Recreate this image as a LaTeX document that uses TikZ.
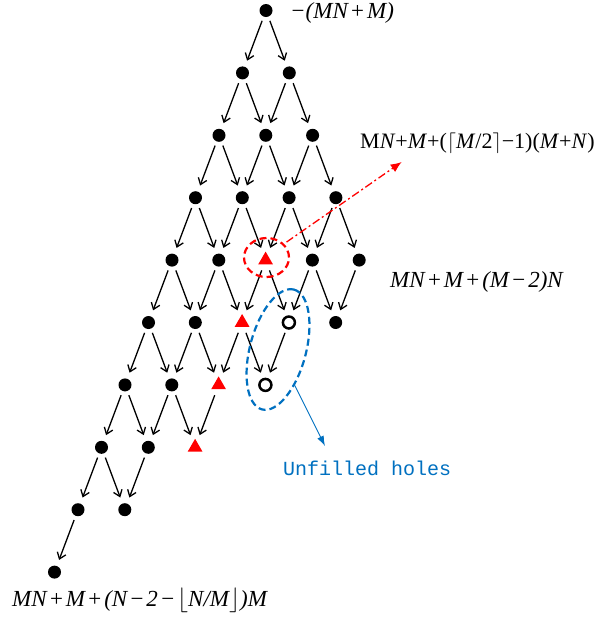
\documentclass[tikz,border=0pt]{standalone}
\usepackage{fontspec}
\setmainfont{Liberation Serif}
\setmonofont{Liberation Mono}
\usetikzlibrary{shapes.geometric,arrows.meta}
\definecolor{myblue}{RGB}{0,112,192}
\newcommand\opsp[1]{\hspace{0.08em}#1\hspace{0.08em}}
\begin{document}
\begin{tikzpicture}[x=1pt,y=-1pt,
  dotnode/.style={circle,fill=black,minimum size=13pt,inner sep=0pt},
  trinode/.style={regular polygon,regular polygon sides=3,fill=red,minimum size=17pt,inner sep=0pt},
  holenode/.style={circle,draw=black,line width=2.5pt,fill=white,minimum size=12pt,inner sep=0pt},
  edge/.style={line width=1.3pt,-{Straight Barb[length=6pt,width=9pt]},shorten <=11pt,shorten >=13pt},
  lbl/.style={font=\fontsize{23}{27}\selectfont,inner sep=0pt,anchor=west}]
\useasboundingbox (0,0) rectangle (602,619);
% nodes
\foreach \r/\n in {0/0,1/1,2/2,3/3,4/4,5/4,6/3,7/2,8/1,9/0}{
  \foreach \i in {0,...,\n}{
    \def\sty{dotnode}
    \ifnum\i=2 \ifnum\r>3 \def\sty{trinode}\fi\fi
    \ifnum\i=3 \ifnum\r>4 \def\sty{holenode}\fi\fi
    \node[\sty] (n-\r-\i) at ({266-23.5*\r+46.8*\i},{10.5+62.4*\r}) {};
  }
}
% edges
\foreach \r/\n/\m in {0/0/1,1/1/2,2/2/3,3/3/4,4/4/4,5/4/3,6/3/2,7/2/1,8/1/0}{
  \pgfmathtruncatemacro\rr{\r+1}
  \foreach \i in {0,...,\n}{
    \pgfmathtruncatemacro\ii{\i+1}
    \ifnum\i>\m\else \draw[edge] (n-\r-\i.center) -- (n-\rr-\i.center);\fi
    \ifnum\ii>\m\else \draw[edge] (n-\r-\i.center) -- (n-\rr-\ii.center);\fi
  }
}
% red ring and arrow
\node[draw=red,ellipse,line width=2.2pt,dash pattern=on 7pt off 4pt,minimum width=45pt,minimum height=39pt,inner sep=0pt] (redring) at (266.5,257.5) {};
\coordinate (redtip) at (401.7,162);
\draw[red,line width=1.3pt,dash pattern=on 8pt off 3pt on 2pt off 3pt,-{Latex[length=11pt,width=9pt]},shorten <=3pt] (redring.38) -- (redtip);
% blue ellipse and arrow
\node[draw=myblue,ellipse,line width=2.2pt,dash pattern=on 7pt off 4pt,minimum width=124pt,minimum height=56pt,inner sep=0pt,rotate=75] (holes) at (278,349.5) {};
\coordinate (bluetip) at (325,446);
\draw[myblue,line width=0.9pt,-{Latex[length=10pt,width=7pt]}] (holes.220) -- (bluetip);
% labels
\node[lbl] (ltop) at (290,13) {\textit{−(MN\opsp{+}M)}};
\node[lbl,font=\fontsize{22}{26}\selectfont] (lmid) at (360,143) {M\textit{N}+\textit{M}+($\big\lceil$\textit{M}/2$\big\rceil$−1)(\textit{M}+\textit{N})};
\node[lbl] (lright) at (390,282) {\textit{MN\opsp{+}M\opsp{+}(M\opsp{−}2)N}};
\node[lbl] (lbot) at (12,600) {\textit{MN\opsp{+}M\opsp{+}(N\opsp{−}2\opsp{−}$\big\lfloor$N/M$\big\rfloor$)M}};
\node[anchor=west,inner sep=0pt,font=\ttfamily\fontsize{20}{24}\selectfont,text=myblue] (lholes) at (283,468) {Unfilled holes};
\end{tikzpicture}
\end{document}
